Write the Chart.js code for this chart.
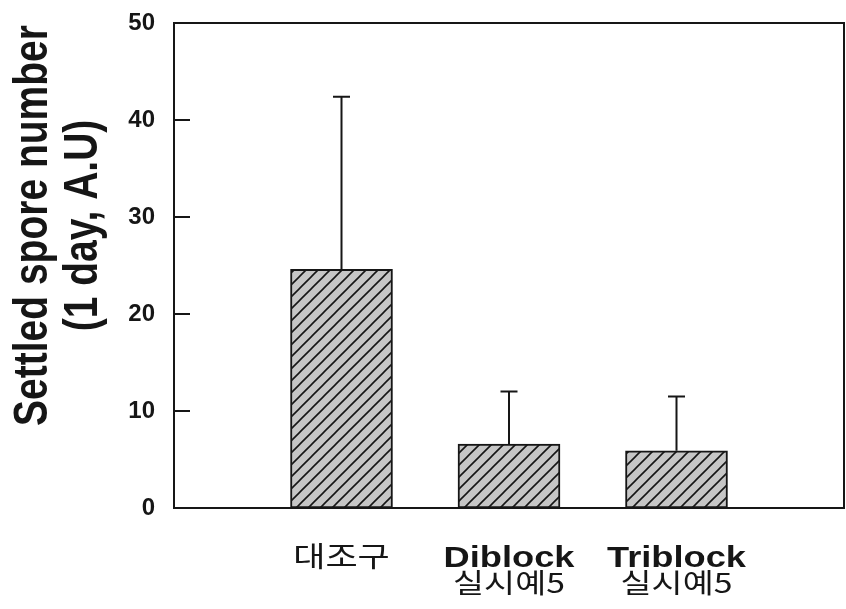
<!DOCTYPE html>
<html>
<head>
  <meta charset="utf-8">
  <title>Settled spore number</title>
  <script src="https://cdn.jsdelivr.net/npm/chart.js"></script>
  <style>
    html, body { margin: 0; padding: 0; background: #fff; }
  </style>
</head>
<body>
  <canvas id="chart" width="846" height="609"></canvas>
  <script>
    // groups on the x axis: bold name on the first line, plain text under it
    const groupNames = ['대조구', 'Diblock', 'Triblock'];
    const groupSubs = ['', '실시예5', '실시예5'];
    // mean settled spore number and its upper error bar
    const spores = [24.6, 6.6, 5.9];
    const sporeErr = [17.8, 5.4, 5.6];
    const yTicks = [0, 10, 20, 30, 40, 50];
    const yTitle = ['Settled spore number', '(1 day, A.U)'];

    // empty slot at each end so the bars sit at 1/4, 2/4 and 3/4 of the width
    const labels = ['', ...groupNames, ''];
    const values = [null, ...spores, null];
    const errs = [null, ...sporeErr, null];

    const INK = '#161616';
    const XSTRETCH = 1.25; // the original picture is stretched sideways

    function hatch() {
      const s = 12;
      const c = document.createElement('canvas');
      c.width = s; c.height = s;
      const g = c.getContext('2d');
      g.fillStyle = '#c6c6c6';
      g.fillRect(0, 0, s, s);
      g.strokeStyle = INK;
      g.lineWidth = 1.6;
      g.beginPath();
      g.moveTo(-2, s + 2); g.lineTo(s + 2, -2);
      g.moveTo(-2, 2); g.lineTo(2, -2);
      g.moveTo(s - 2, s + 2); g.lineTo(s + 2, s - 2);
      g.stroke();
      return g.createPattern(c, 'repeat');
    }

    function wideText(ctx, text, x, y, rot) {
      ctx.save();
      ctx.translate(x, y);
      ctx.scale(XSTRETCH, 1);
      if (rot) ctx.rotate(rot);
      ctx.fillText(text, 0, 0);
      ctx.restore();
    }

    // error bars (upper side only, with a short cap)
    const errorBars = {
      id: 'errorBars',
      afterDatasetsDraw(chart) {
        const ctx = chart.ctx;
        const y = chart.scales.y;
        const meta = chart.getDatasetMeta(0);
        ctx.save();
        ctx.strokeStyle = INK;
        ctx.lineWidth = 2;
        values.forEach((v, i) => {
          if (v == null) return;
          const x = meta.data[i].x;
          const y0 = y.getPixelForValue(v);
          const y1 = y.getPixelForValue(v + errs[i]);
          ctx.beginPath();
          ctx.moveTo(x, y0);
          ctx.lineTo(x, y1);
          ctx.moveTo(x - 8.5, y1);
          ctx.lineTo(x + 8.5, y1);
          ctx.stroke();
        });
        ctx.restore();
      }
    };

    // box frame, inward ticks, y title and two-line x labels
    const decor = {
      id: 'decor',
      afterDraw(chart) {
        const ctx = chart.ctx;
        const a = chart.chartArea;
        const y = chart.scales.y;
        const x = chart.scales.x;
        ctx.save();
        ctx.strokeStyle = INK;
        ctx.lineWidth = 2;
        ctx.strokeRect(a.left, a.top, a.right - a.left, a.bottom - a.top);
        ctx.beginPath();
        yTicks.slice(1, -1).forEach(t => {
          const py = y.getPixelForValue(t);
          ctx.moveTo(a.left, py);
          ctx.lineTo(a.left + 16, py);
        });
        ctx.stroke();

        ctx.fillStyle = INK;
        ctx.textAlign = 'center';
        ctx.textBaseline = 'alphabetic';
        ctx.font = 'bold 39px "Liberation Sans", Arial, sans-serif';
        const cy = (a.top + a.bottom) / 2 - 40;
        wideText(ctx, yTitle[0], a.left - 127, cy, -Math.PI / 2);
        wideText(ctx, yTitle[1], a.left - 77, cy, -Math.PI / 2);

        groupNames.forEach((name, i) => {
          const px = x.getPixelForValue(i + 1);
          const korean = /[\uac00-\ud7a3]/.test(name);
          ctx.font = korean
            ? '28px "Noto Sans CJK KR", sans-serif'
            : 'bold 29px "Liberation Sans", Arial, sans-serif';
          wideText(ctx, name, px, a.bottom + 59);
          if (groupSubs[i]) {
            ctx.font = '27px "Noto Sans CJK KR", sans-serif';
            wideText(ctx, groupSubs[i], px, a.bottom + 85);
          }
        });
        ctx.restore();
      }
    };

    new Chart(document.getElementById('chart'), {
      type: 'bar',
      data: {
        labels: labels,
        datasets: [{
          data: values,
          backgroundColor: hatch(),
          borderColor: INK,
          borderWidth: 2,
          borderSkipped: false,
          barThickness: 102
        }]
      },
      options: {
        responsive: false,
        animation: false,
        layout: { padding: { top: 23, right: 2, left: 0, bottom: 0 } },
        plugins: {
          legend: { display: false },
          tooltip: { enabled: false }
        },
        scales: {
          x: {
            offset: false,
            grid: { display: false },
            border: { display: false },
            ticks: { display: false },
            afterFit: s => { s.height = 101; }
          },
          y: {
            min: 0,
            max: 50,
            afterBuildTicks: s => { s.ticks = yTicks.map(v => ({ value: v })); },
            grid: { display: false, drawTicks: false },
            border: { display: false },
            ticks: {
              padding: 19,
              color: INK,
              font: { family: '"Liberation Sans", Arial, sans-serif', size: 24, weight: 'bold' }
            },
            afterFit: s => {
              s.width = 174;
              s.paddingTop = 0;
              s.paddingBottom = 0;
            }
          }
        }
      },
      plugins: [errorBars, decor]
    });
  </script>
</body>
</html>
